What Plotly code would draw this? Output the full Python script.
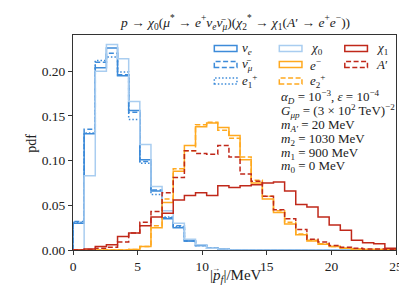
import numpy as np
import plotly.graph_objects as go

# ---------------- data ----------------
bin_edges = list(np.linspace(0, 25, 30))  # 29 bins

nu_e = [0.030, 0.130, 0.204, 0.226, 0.195, 0.156, 0.101, 0.066, 0.035, 0.025, 0.010, 0.005, 0.002, 0.001,
        0, 0, 0, 0, 0, 0, 0, 0, 0, 0, 0, 0, 0, 0, 0]
nubar_mu = [0.032, 0.135, 0.210, 0.220, 0.196, 0.154, 0.099, 0.067, 0.036, 0.027, 0.010, 0.005, 0.002, 0.001,
            0, 0, 0, 0, 0, 0, 0, 0, 0, 0, 0, 0, 0, 0, 0]
e1_plus = [0.031, 0.131, 0.212, 0.216, 0.199, 0.146, 0.097, 0.062, 0.037, 0.026, 0.010, 0.005, 0.002, 0.001,
           0, 0, 0, 0, 0, 0, 0, 0, 0, 0, 0, 0, 0, 0, 0]
chi0 = [0.000, 0.083, 0.200, 0.230, 0.214, 0.166, 0.118, 0.071, 0.044, 0.030, 0.012, 0.006, 0.002, 0.001,
        0, 0, 0, 0, 0, 0, 0, 0, 0, 0, 0, 0, 0, 0, 0]
e_minus = [0, 0, 0, 0, 0, 0.0005, 0.004, 0.025, 0.053, 0.088, 0.117, 0.138, 0.142, 0.137, 0.128, 0.101,
           0.075, 0.057, 0.042, 0.029, 0.017, 0.010, 0.0065, 0.004, 0.002, 0.001, 0.0005, 0.0005, 0.0005]
e2_plus = [0, 0, 0, 0, 0, 0.0005, 0.004, 0.027, 0.057, 0.091, 0.111, 0.140, 0.143, 0.134, 0.125, 0.104,
           0.078, 0.060, 0.044, 0.031, 0.018, 0.011, 0.007, 0.004, 0.002, 0.001, 0.0005, 0.0005, 0.0005]
chi1 = [0, 0.001, 0.004, 0.006, 0.015, 0.019, 0.027, 0.037, 0.041, 0.056, 0.061, 0.064, 0.061, 0.072, 0.070,
        0.072, 0.073, 0.075, 0.076, 0.066, 0.051, 0.048, 0.037, 0.028, 0.022, 0.011, 0.008, 0.007, 0.002]
a_prime = [0, 0.0005, 0.002, 0.003, 0.009, 0.019, 0.031, 0.043, 0.064, 0.081, 0.111, 0.108, 0.107, 0.117,
           0.104, 0.085, 0.077, 0.060, 0.045, 0.035, 0.023, 0.012, 0.009, 0.005, 0.003, 0.002, 0.001, 0.001, 0.0005]

x_ticks = [0, 5, 10, 15, 20, 25]
y_ticks = [0.00, 0.05, 0.10, 0.15, 0.20]

labels = {
    "nu_e": "<i>ν<sub>e</sub></i>",
    "nubar_mu": "<i>ν̄<sub>μ</sub></i>",
    "e1_plus": "<i>e</i><sub>1</sub><sup>+</sup>",
    "chi0": "<i>χ</i><sub>0</sub>",
    "e_minus": "<i>e</i><sup>−</sup>",
    "e2_plus": "<i>e</i><sub>2</sub><sup>+</sup>",
    "chi1": "<i>χ</i><sub>1</sub>",
    "a_prime": "<i>A</i>′",
}

# ---------------- styles ----------------
BLUE = "#3d8bd9"
LBLUE = "#a9cdf0"
ORANGE = "#ffa91f"
RED = "#c0281a"
DASH = "5px,2.5px"
DOT = "1.5px,2px"

series = [
    ("nu_e", nu_e, BLUE, "solid"),
    ("nubar_mu", nubar_mu, BLUE, DASH),
    ("e1_plus", e1_plus, BLUE, DOT),
    ("chi0", chi0, LBLUE, "solid"),
    ("e_minus", e_minus, ORANGE, "solid"),
    ("e2_plus", e2_plus, ORANGE, DASH),
    ("chi1", chi1, RED, "solid"),
    ("a_prime", a_prime, RED, DASH),
]

FONT = "Liberation Serif"
TXT = "#222"
W, H = 407, 285
ML, MR, MT, MB = 65, 14, 27, 43

fig = go.Figure()
for key, vals, col, dash in series:
    xs = [bin_edges[0]] + bin_edges[:-1] + [bin_edges[-1]]
    ys = [0] + list(vals) + [0]
    fig.add_trace(go.Scatter(x=xs, y=ys, mode="lines", line_shape="hv",
                             line=dict(color=col, width=1.5, dash=dash),
                             name=key, showlegend=False, hoverinfo="skip"))

# pixel -> paper helpers (layout only)
PW, PH = W - ML - MR, H - MT - MB
def px(xp):
    return (xp - ML) / PW
def py(yp):
    return (H - MB - yp) / PH

# custom legend with rectangle handles
cols_px = [(208.5, 231.5, 235), (274.5, 297.5, 304), (341, 364, 371)]
rows_px = [40.5, 56.5, 73.0]
order = [["nu_e", "nubar_mu", "e1_plus"], ["chi0", "e_minus", "e2_plus"], ["chi1", "a_prime"]]
style = {k: (c, d) for k, _, c, d in series}
shapes = []
annotations = []
for ci, keys in enumerate(order):
    x0, x1, xt = cols_px[ci]
    for ri, k in enumerate(keys):
        yc = rows_px[ri]
        col, dash = style[k]
        shapes.append(dict(type="rect", xref="paper", yref="paper",
                           x0=px(x0), x1=px(x1), y0=py(yc + 3), y1=py(yc - 3),
                           line=dict(color=col, width=1.5, dash=dash),
                           fillcolor="rgba(0,0,0,0)"))
        annotations.append(dict(xref="paper", yref="paper", x=px(xt), y=py(yc),
                                text=labels[k], showarrow=False, xanchor="left", yanchor="middle",
                                font=dict(family=FONT, size=13, color=TXT)))

info_lines = [
    "<i>α<sub>D</sub></i> = 10<sup>−3</sup>, <i>ε</i> = 10<sup>−4</sup>",
    "<i>G<sub>μp</sub></i> = (3 × 10<sup>2</sup> TeV)<sup>−2</sup>",
    "<i>m<sub>A′</sub></i> = 20 MeV",
    "<i>m</i><sub>2</sub> = 1030 MeV",
    "<i>m</i><sub>1</sub> = 900 MeV",
    "<i>m</i><sub>0</sub> = 0 MeV",
]
info_y = [89, 103, 118, 131.5, 145, 158]
for t, yy in zip(info_lines, info_y):
    annotations.append(dict(xref="paper", yref="paper", x=px(274), y=py(yy), text=t,
                            showarrow=False, xanchor="left", yanchor="middle",
                            font=dict(family=FONT, size=13, color=TXT)))

# title
annotations.append(dict(xref="paper", yref="paper", x=px(229), y=py(14),
                        text="<i>p</i> → <i>χ</i><sub>0</sub>(<i>μ</i><sup>*</sup> → <i>e</i><sup>+</sup><i>ν<sub>e</sub>ν̄<sub>μ</sub></i>)(<i>χ</i><sub>2</sub><sup>*</sup> → <i>χ</i><sub>1</sub>(<i>A</i>′ → <i>e</i><sup>+</sup><i>e</i><sup>−</sup>))",
                        showarrow=False, xanchor="center", yanchor="middle",
                        font=dict(family=FONT, size=13.5, color=TXT)))
# axis titles (x label with the vector arrow placed above p)
annotations.append(dict(xref="paper", yref="paper", x=px(202), y=py(268),
                        text="|<i>p<sub>f</sub></i>|/MeV",
                        showarrow=False, xanchor="left", yanchor="middle",
                        font=dict(family=FONT, size=15, color=TXT)))
annotations.append(dict(xref="paper", yref="paper", x=px(210), y=py(260),
                        text="→", showarrow=False, xanchor="center", yanchor="middle",
                        font=dict(family=FONT, size=8, color=TXT)))
annotations.append(dict(xref="paper", yref="paper", x=px(22), y=py(135),
                        text="pdf", showarrow=False, textangle=-90,
                        xanchor="center", yanchor="middle",
                        font=dict(family=FONT, size=14, color=TXT)))

fig.update_layout(
    width=W, height=H,
    margin=dict(l=ML, r=MR, t=MT, b=MB, pad=0),
    paper_bgcolor="white", plot_bgcolor="white",
    showlegend=False,
    shapes=shapes, annotations=annotations,
    font=dict(family=FONT, size=13, color=TXT),
)
fig.update_xaxes(range=[0, 25], tickvals=x_ticks, ticktext=[str(v) for v in x_ticks],
                 showgrid=False, zeroline=False, showline=True, linecolor="#333", linewidth=1,
                 mirror=True, ticks="outside", ticklen=4, tickcolor="#333",
                 tickfont=dict(family=FONT, size=13.5, color=TXT))
fig.update_yaxes(range=[0, 0.2405], tickvals=y_ticks, ticktext=[f"{v:.2f}" for v in y_ticks],
                 showgrid=False, zeroline=False, showline=True, linecolor="#333", linewidth=1,
                 mirror=True, ticks="outside", ticklen=4, tickcolor="#333",
                 tickfont=dict(family=FONT, size=13.5, color=TXT))

fig.write_html("out.html")
